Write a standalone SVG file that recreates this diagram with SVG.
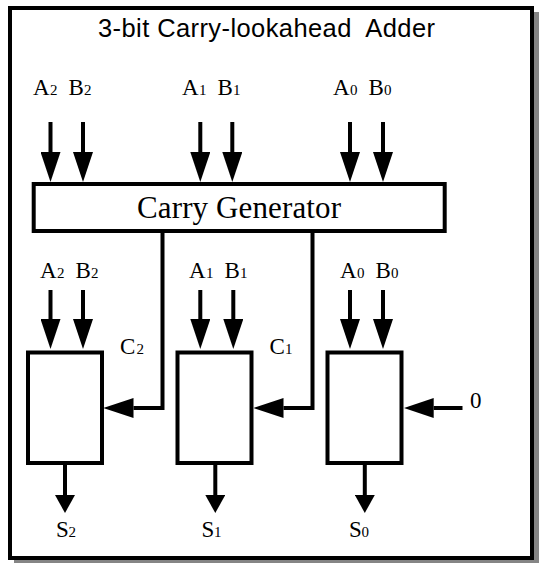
<svg xmlns="http://www.w3.org/2000/svg" width="544" height="563" viewBox="0 0 544 563">
<defs>
<marker id="ah" viewBox="0 0 30 20" markerWidth="30" markerHeight="20" refX="0" refY="10" orient="auto" markerUnits="userSpaceOnUse"><path d="M0,0 L30,10 L0,20 z" fill="#000"/></marker>
<marker id="as" viewBox="0 0 18 20" markerWidth="18" markerHeight="20" refX="0" refY="10" orient="auto" markerUnits="userSpaceOnUse"><path d="M0,0 L18,10 L0,20 z" fill="#000"/></marker>
</defs>
<style>
.box{fill:#fff;stroke:#000;stroke-width:4}
.w{fill:none;stroke:#000;stroke-width:4;stroke-linejoin:miter}
.in{marker-end:url(#ah)}
.out{marker-end:url(#as)}
.t{font-family:"Liberation Serif","Times New Roman",serif;font-size:23px;fill:#000}
.s{font-size:15px}
.title{font-family:"Liberation Sans",Arial,sans-serif;font-size:25.5px;fill:#000;white-space:pre}
.cg{font-family:"Liberation Serif","Times New Roman",serif;font-size:31px;fill:#000}
</style>
<rect x="0" y="0" width="544" height="563" fill="#fff"/>
<g id="frame">
<rect x="14" y="12" width="525" height="551" fill="#858585"/>
<rect class="box" x="10" y="8" width="522" height="550"/>
<text class="title" x="98" y="37" textLength="337" lengthAdjust="spacing" xml:space="preserve">3-bit Carry-lookahead  Adder</text>
</g>
<g id="carry-generator">
<rect class="box" x="33.7" y="184" width="411" height="47"/>
<text class="cg" x="137" y="218" textLength="204" lengthAdjust="spacing">Carry Generator</text>
</g>
<g id="inputs-top">
<text class="t" y="95"><tspan x="33">A</tspan><tspan class="s" x="50">2</tspan><tspan x="68.5">B</tspan><tspan class="s" x="84">2</tspan></text>
<text class="t" y="95"><tspan x="182">A</tspan><tspan class="s" x="199">1</tspan><tspan x="217.5">B</tspan><tspan class="s" x="233">1</tspan></text>
<text class="t" y="95"><tspan x="333">A</tspan><tspan class="s" x="350">0</tspan><tspan x="368.5">B</tspan><tspan class="s" x="384">0</tspan></text>
</g>
<g id="adder2">
<rect class="box" x="28" y="352.5" width="74" height="110.5"/>
<text class="t" y="278"><tspan x="40">A</tspan><tspan class="s" x="57">2</tspan><tspan x="75.5">B</tspan><tspan class="s" x="91">2</tspan></text>
<text class="t" y="536.5"><tspan x="56">S</tspan><tspan class="s" x="68.5">2</tspan></text>
</g>
<g id="adder1">
<rect class="box" x="177.5" y="352.5" width="74" height="110.5"/>
<text class="t" y="278"><tspan x="189">A</tspan><tspan class="s" x="206">1</tspan><tspan x="224.5">B</tspan><tspan class="s" x="240">1</tspan></text>
<text class="t" y="536.5"><tspan x="201.5">S</tspan><tspan class="s" x="214">1</tspan></text>
</g>
<g id="adder0">
<rect class="box" x="327.5" y="352.5" width="74" height="110.5"/>
<text class="t" y="278"><tspan x="340">A</tspan><tspan class="s" x="357">0</tspan><tspan x="375.5">B</tspan><tspan class="s" x="391">0</tspan></text>
<text class="t" y="536.5"><tspan x="349">S</tspan><tspan class="s" x="361.5">0</tspan></text>
</g>
<g id="carry-labels">
<text class="t" y="353.5"><tspan x="120">C</tspan><tspan class="s" x="136.5">2</tspan></text>
<text class="t" y="353.5"><tspan x="269.5">C</tspan><tspan class="s" x="285">1</tspan></text>
<text class="t" x="470" y="408" style="font-size:23px">0</text>
</g>
<g id="connectors">
<path class="w in" d="M50.5,122 V152"/>
<path class="w in" d="M83,122 V152"/>
<path class="w in" d="M200.3,122 V152"/>
<path class="w in" d="M232.3,122 V152"/>
<path class="w in" d="M350,122 V152"/>
<path class="w in" d="M383,122 V152"/>
<path class="w in" d="M50.5,290 V319"/>
<path class="w in" d="M83,290 V319"/>
<path class="w in" d="M200.3,290 V319"/>
<path class="w in" d="M233.3,290 V319"/>
<path class="w in" d="M350,290 V319"/>
<path class="w in" d="M383,290 V319"/>
<path class="w out" d="M65,463 V495"/>
<path class="w out" d="M215.3,463 V495"/>
<path class="w out" d="M364.8,463 V495"/>
<path class="w in" d="M162.5,231 V408 H133.5"/>
<path class="w in" d="M312.5,231 V408 H283.5"/>
<path class="w in" d="M462.5,408 H433.7"/>
</g>
</svg>
